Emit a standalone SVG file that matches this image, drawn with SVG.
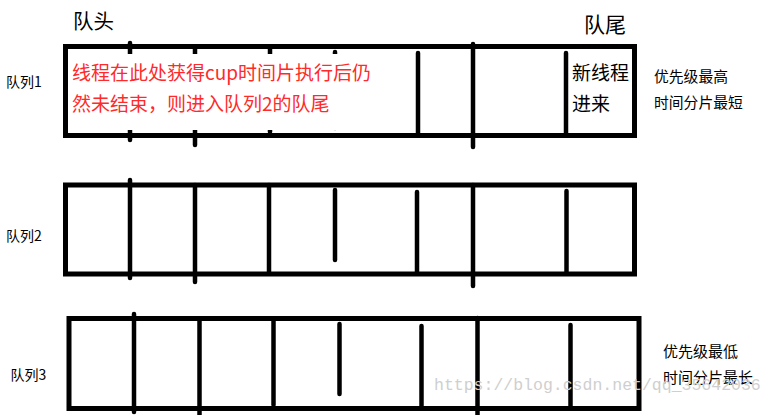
<svg xmlns="http://www.w3.org/2000/svg" width="777" height="415" viewBox="0 0 777 415">
<style>
.box{fill:none;stroke:#000;stroke-width:5}
.div{stroke:#000;stroke-width:4.5;stroke-linecap:round}
.t{font-family:"Noto Sans CJK SC","Microsoft YaHei",sans-serif;fill:#000}
.red{font-family:"Noto Sans CJK SC",sans-serif;fill:#ff2a2a}
.wm{font-family:"Liberation Mono",monospace;fill:#cfcfcf;font-size:16.5px}
</style>
<rect width="777" height="415" fill="#fff"/>
<g id="connectors">
<line class="div" x1="130" y1="43" x2="130" y2="140"/>
<line class="div" x1="195" y1="48" x2="195" y2="145"/>
<line class="div" x1="270" y1="49" x2="270" y2="132"/>
<line class="div" x1="335" y1="52" x2="335" y2="128"/>
<line class="div" x1="418" y1="53" x2="418" y2="133"/>
<line class="div" x1="473" y1="44" x2="473" y2="147"/>
<line class="div" x1="566" y1="53" x2="566" y2="133"/>

<line class="div" x1="130" y1="180" x2="130" y2="278"/>
<line class="div" x1="195" y1="185" x2="195" y2="282"/>
<line class="div" x1="269" y1="185" x2="269" y2="272"/>
<line class="div" x1="335" y1="190" x2="335" y2="260"/>
<line class="div" x1="417" y1="192" x2="417" y2="272"/>
<line class="div" x1="473" y1="185" x2="473" y2="286"/>
<line class="div" x1="566.5" y1="191" x2="566.5" y2="272"/>

<line class="div" x1="134" y1="314" x2="134" y2="412"/>
<line class="div" x1="199.5" y1="320" x2="199.5" y2="417"/>
<line class="div" x1="273.5" y1="320" x2="273.5" y2="405"/>
<line class="div" x1="339.5" y1="324" x2="339.5" y2="394"/>
<line class="div" x1="421.5" y1="326" x2="421.5" y2="406"/>
<line class="div" x1="477.5" y1="318" x2="477.5" y2="417"/>
<line class="div" x1="570.5" y1="325" x2="570.5" y2="406"/>
</g>
<g id="queue1">
<rect class="box" x="65.5" y="46.5" width="569" height="89"/>
<text class="t" x="6" y="86.5" font-size="14">队列1</text>
</g>
<g id="note">
<rect x="69" y="54" width="335" height="76" fill="#fff"/>
<text class="red" x="72" y="80" font-size="19">线程在此处获得cup时间片执行后仍</text>
<text class="red" x="72" y="111" font-size="19">然未结束，则进入队列2的队尾</text>
</g>
<g id="newthread">
<text class="t" x="572" y="80" font-size="19">新线程</text>
<text class="t" x="572" y="111" font-size="19">进来</text>
</g>
<g id="head"><text class="t" x="73" y="28.5" font-size="20.5">队头</text></g>
<g id="tail"><text class="t" x="584" y="31.5" font-size="21">队尾</text></g>
<g id="info1">
<text class="t" x="654" y="82" font-size="14.8">优先级最高</text>
<text class="t" x="654" y="108" font-size="14.8">时间分片最短</text>
</g>
<g id="queue2">
<rect class="box" x="65.5" y="185" width="569" height="89"/>
<text class="t" x="6" y="240.5" font-size="14">队列2</text>
</g>
<g id="queue3">
<rect class="box" x="69" y="318.5" width="570" height="90"/>
<text class="t" x="10.5" y="379.5" font-size="14">队列3</text>
</g>
<g id="info3">
<text class="t" x="663" y="357" font-size="15">优先级最低</text>
<text class="t" x="663" y="382.5" font-size="15">时间分片最长</text>
</g>
<text class="wm" x="434" y="389.5">https://blog.csdn.net/qq_35642036</text>
</svg>
